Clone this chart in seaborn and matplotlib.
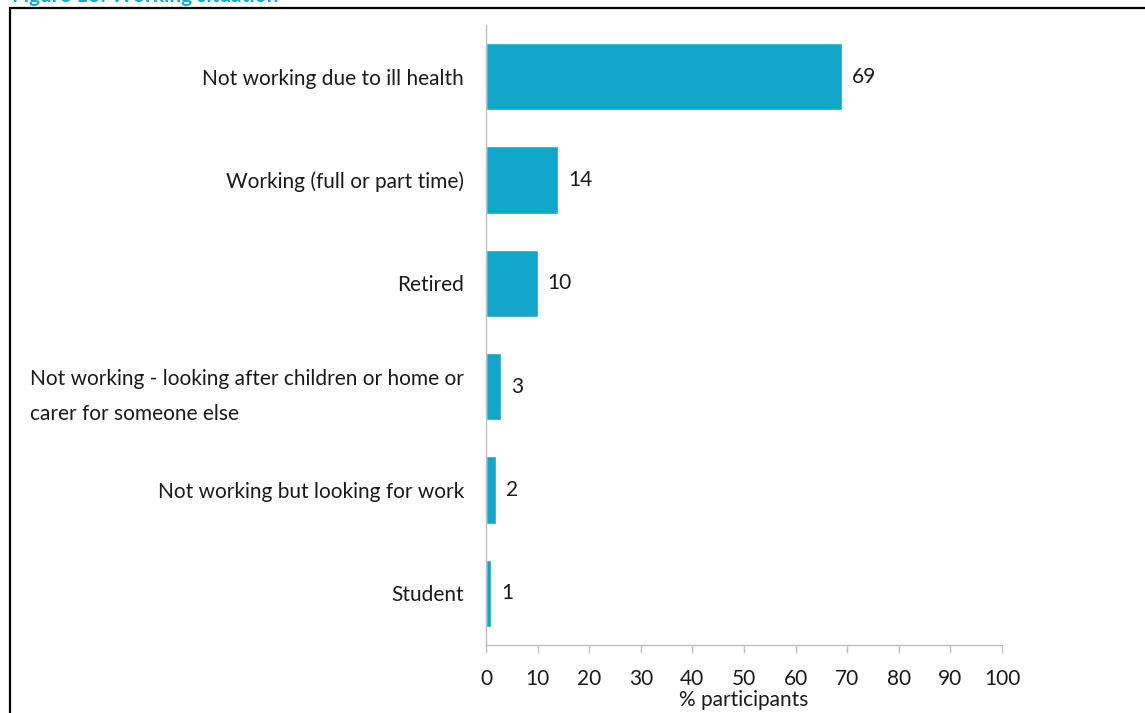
import matplotlib
matplotlib.use("Agg")
import matplotlib.pyplot as plt
from matplotlib.patches import Rectangle
import seaborn as sns

categories = [
    "Not working due to ill health",
    "Working (full or part time)",
    "Retired",
    "Not working - looking after children or home or\ncarer for someone else",
    "Not working but looking for work",
    "Student",
]
values = [69, 14, 10, 3, 2, 1]
x_ticks = [0, 10, 20, 30, 40, 50, 60, 70, 80, 90, 100]

bar_color = "#12a7c9"
axis_grey = "#bfbfbf"
fs = 15

sns.set_theme(style="white")
plt.rcParams["font.family"] = ["Lato", "DejaVu Sans"]

fig = plt.figure(figsize=(11.45, 7.13), dpi=100)
ax = fig.add_axes([486 / 1145, 1 - 645 / 713, (1002 - 486) / 1145, (645 - 25) / 713])

sns.barplot(x=values, y=categories, orient="h", color=bar_color,
            saturation=1, width=0.65, ax=ax)

ax.set_xlim(0, 100)
ax.set_ylim(len(categories) - 0.5, -0.5)
ax.set_xticks(x_ticks)
ax.set_xticklabels([str(t) for t in x_ticks], fontsize=fs, color="#1a1a1a")
ax.set_xlabel("% participants", fontsize=fs, color="#1a1a1a", labelpad=1)
ax.set_ylabel("")
ax.tick_params(axis="x", length=6, width=1, color=axis_grey, pad=11, bottom=True)
ax.tick_params(axis="y", length=0, pad=16, labelsize=fs, labelcolor="#1a1a1a")
for lab in ax.get_yticklabels():
    lab.set_multialignment("left")
    lab.set_linespacing(1.95)

for side in ("top", "right"):
    ax.spines[side].set_visible(False)
for side in ("left", "bottom"):
    ax.spines[side].set_color(axis_grey)
    ax.spines[side].set_linewidth(1)

for container in ax.containers:
    ax.bar_label(container, labels=[str(v) for v in values], padding=7,
                 fontsize=fs, color="#1a1a1a")

# Figure caption and surrounding frame
fig.text(12 / 1145, 1 - 2 / 713, "Figure 13: Working situation", fontsize=15,
         fontweight="bold", color="#1ba8cb", ha="left", va="baseline")
fig.patches.append(Rectangle((10 / 1145, -0.05), 1.2, 1 - 8 / 713 + 0.05,
                             transform=fig.transFigure, fill=False,
                             edgecolor="black", linewidth=1.6))

fig.savefig("out.png", dpi=100)
